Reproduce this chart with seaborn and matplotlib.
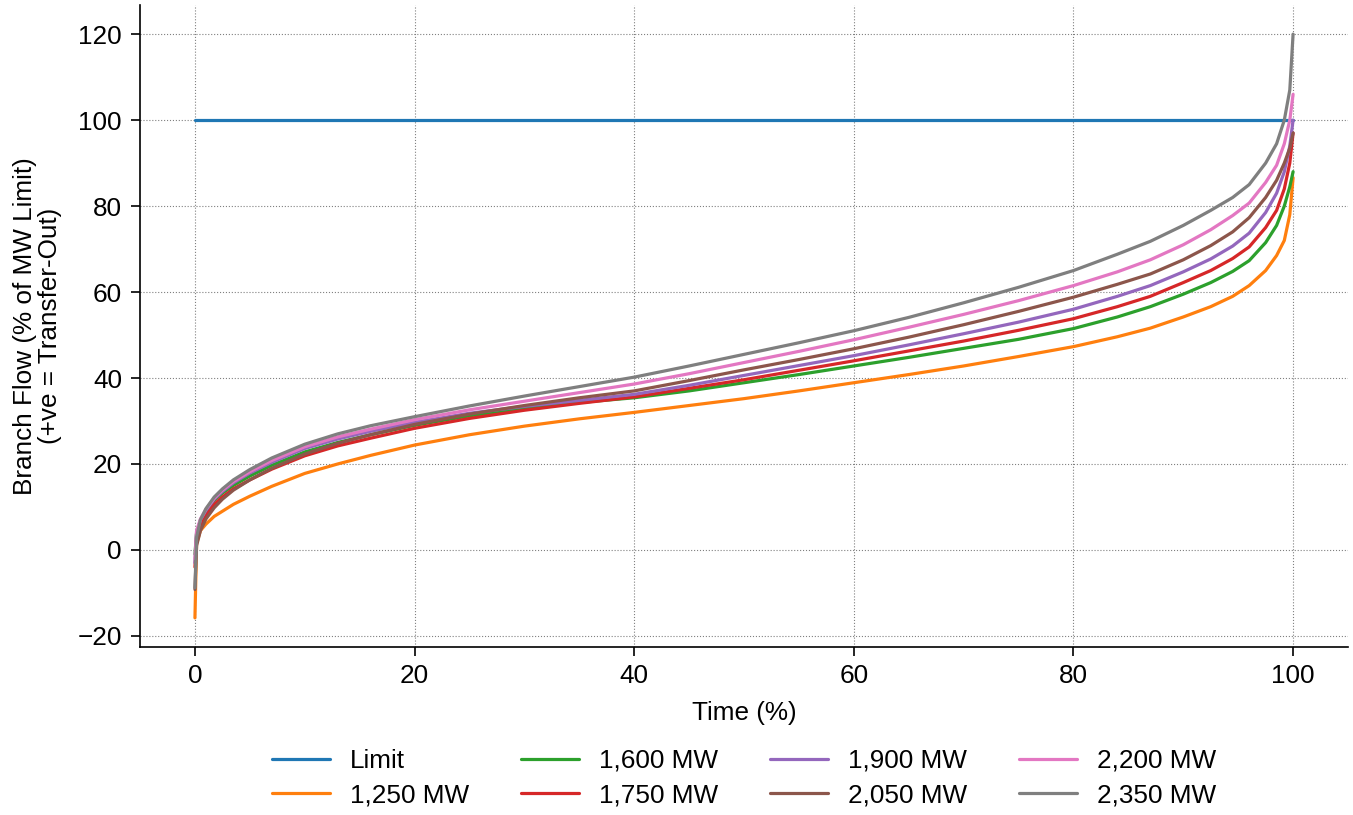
import matplotlib
matplotlib.use("Agg")
import matplotlib.pyplot as plt
import seaborn as sns
import pandas as pd

# Time (% of hours) sample positions
time_pct = [0, 0.15, 0.5, 1, 1.75, 2.5, 3.5, 5, 7, 10, 13, 16, 20, 25, 30, 35, 40, 45, 50,
            55, 60, 65, 70, 75, 80, 84, 87, 90, 92.5, 94.5, 96, 97.5, 98.5, 99.2, 99.7, 100]

flow_1250 = [-15.8, 1.5, 4.5, 6.0, 7.8, 9.0, 10.6, 12.5, 14.8, 17.8, 20.0, 22.0, 24.4, 26.8, 28.8, 30.5, 32.0, 33.6, 35.2,
             37.0, 38.9, 40.8, 42.8, 45.0, 47.3, 49.6, 51.6, 54.2, 56.6, 59.0, 61.5, 65.0, 68.5, 72.0, 78.0, 86.6]
flow_1600 = [-1.0, 4.0, 6.5, 9.0, 11.5, 13.2, 15.0, 17.2, 19.7, 22.8, 25.0, 26.8, 29.0, 31.2, 33.0, 34.3, 35.4, 37.0, 38.9,
             40.8, 42.8, 44.8, 46.9, 49.0, 51.5, 54.2, 56.6, 59.5, 62.2, 64.8, 67.3, 71.5, 75.5, 80.0, 84.5, 88.0]
flow_1750 = [-4.0, 3.0, 5.5, 8.0, 10.6, 12.3, 14.2, 16.3, 18.8, 21.9, 24.2, 26.0, 28.3, 30.6, 32.5, 34.1, 35.6, 37.6, 39.6,
             41.8, 44.0, 46.3, 48.6, 51.1, 53.8, 56.6, 59.0, 62.2, 65.0, 67.8, 70.5, 75.0, 79.0, 84.0, 90.0, 97.0]
flow_1900 = [-3.0, 4.0, 7.0, 9.2, 11.8, 13.6, 15.6, 17.9, 20.4, 23.6, 25.8, 27.6, 29.7, 31.8, 33.4, 34.8, 36.2, 38.3, 40.6,
             42.9, 45.2, 47.7, 50.3, 53.0, 56.0, 59.0, 61.5, 64.7, 67.7, 70.7, 73.7, 78.5, 83.0, 88.0, 94.0, 100.0]
flow_2050 = [-9.2, 1.0, 4.5, 7.2, 9.8, 11.8, 13.9, 16.3, 19.0, 22.3, 24.8, 26.8, 29.2, 31.6, 33.6, 35.4, 37.0, 39.4, 41.9,
             44.3, 46.8, 49.5, 52.4, 55.5, 58.8, 61.8, 64.2, 67.5, 70.8, 74.0, 77.3, 82.0, 86.0, 90.0, 93.5, 97.0]
flow_2200 = [-2.0, 4.5, 7.2, 9.5, 12.0, 13.9, 15.9, 18.2, 20.8, 24.0, 26.3, 28.1, 30.3, 32.6, 34.6, 36.6, 38.6, 41.0, 43.6,
             46.2, 48.9, 51.8, 54.8, 58.0, 61.5, 64.7, 67.5, 71.0, 74.5, 77.8, 80.7, 85.5, 89.5, 94.5, 100.0, 106.0]
flow_2350 = [-8.8, 3.0, 7.0, 9.6, 12.3, 14.2, 16.3, 18.7, 21.4, 24.6, 27.0, 28.9, 31.0, 33.5, 35.8, 38.0, 40.2, 42.8, 45.5,
             48.2, 51.0, 54.1, 57.5, 61.1, 65.0, 68.8, 71.8, 75.5, 79.0, 82.0, 85.0, 90.0, 94.5, 100.0, 107.0, 120.0]

limit_time = [0, 100]
limit_flow = [100, 100]

series_labels = ["1,250 MW", "1,600 MW", "1,750 MW", "1,900 MW", "2,050 MW", "2,200 MW", "2,350 MW"]
series_values = [flow_1250, flow_1600, flow_1750, flow_1900, flow_2050, flow_2200, flow_2350]

rows = [{"Time": t, "Flow": v, "Series": "Limit"} for t, v in zip(limit_time, limit_flow)]
for lab, vals in zip(series_labels, series_values):
    rows += [{"Time": t, "Flow": v, "Series": lab} for t, v in zip(time_pct, vals)]
df = pd.DataFrame(rows)

sns.set_style("ticks")
plt.rcParams["font.family"] = ["Liberation Sans", "DejaVu Sans"]
FS = 18.8
plt.rcParams.update({
    "font.size": FS,
    "text.color": "black",
    "axes.labelcolor": "black",
    "xtick.color": "black",
    "ytick.color": "black",
})

fig = plt.figure(figsize=(13.53, 8.15), dpi=100)
ax = fig.add_axes([0.1035, 0.2061, 0.8928, 0.7878])

order = ["Limit"] + series_labels
palette = dict(zip(order, sns.color_palette("tab10", 8)))
sns.lineplot(data=df, x="Time", y="Flow", hue="Series", hue_order=order,
             palette=palette, linewidth=2.3, ax=ax, sort=False, estimator=None)

ax.set_xlabel("Time (%)", fontsize=FS, labelpad=9)
ax.set_ylabel("Branch Flow (% of MW Limit)\n(+ve = Transfer-Out)", fontsize=FS,
              labelpad=11, linespacing=1.05)
ax.set_yticks([-20, 0, 20, 40, 60, 80, 100, 120])
ax.set_xticks([0, 20, 40, 60, 80, 100])
ax.tick_params(axis="y", labelsize=FS, length=6.5, width=1.2, pad=6.5)
ax.tick_params(axis="x", labelsize=FS, length=6.5, width=1.2, pad=6)
ax.grid(True, linestyle=":", color="gray", linewidth=0.8)
sns.despine(ax=ax)
for s in ["left", "bottom"]:
    ax.spines[s].set_color("black")
    ax.spines[s].set_linewidth(1.2)

handles, labels = ax.get_legend_handles_labels()
ax.get_legend().remove()
fig.legend(handles, labels, loc="center", bbox_to_anchor=(0.55, 0.0454), ncol=4,
           frameon=False, fontsize=FS, handlelength=2.2, handletextpad=0.77,
           columnspacing=2.0, labelspacing=0.4)

fig.savefig("out.png", dpi=100)
